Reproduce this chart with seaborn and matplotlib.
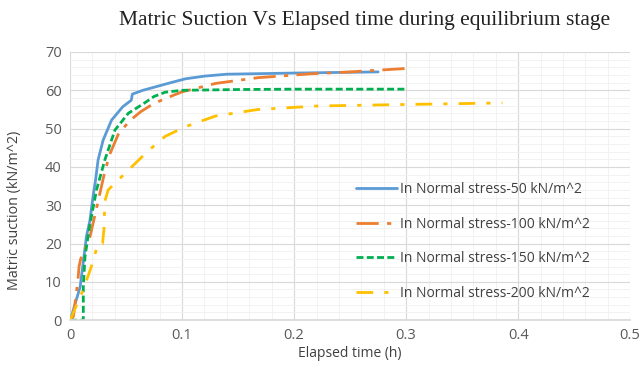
import matplotlib
matplotlib.use("Agg")
import matplotlib.pyplot as plt
import seaborn as sns
import pandas as pd
from matplotlib.ticker import MultipleLocator

# Data
t_50 = [0.0, 0.0015, 0.009, 0.0147, 0.0177, 0.0206, 0.0227, 0.025, 0.0295, 0.037, 0.047, 0.0546, 0.0556, 0.065, 0.075, 0.09, 0.103, 0.12, 0.14, 0.2, 0.25, 0.275]
s_50 = [0.0, 1.3, 8.7, 22.0, 26.0, 32.5, 36.5, 41.8, 47.0, 52.2, 55.7, 57.4, 59.0, 60.0, 60.8, 62.0, 63.0, 63.7, 64.2, 64.5, 64.7, 64.8]
t_100 = [0.0, 0.003, 0.007, 0.008, 0.0095, 0.0177, 0.025, 0.03, 0.035, 0.043, 0.053, 0.063, 0.075, 0.088, 0.1, 0.13, 0.168, 0.215, 0.25, 0.3]
s_100 = [0.0, 1.0, 10.4, 14.0, 16.0, 21.7, 31.0, 37.5, 43.0, 48.5, 52.0, 54.4, 56.6, 58.2, 59.6, 61.8, 63.3, 64.3, 64.8, 65.7]
t_150 = [0.0, 0.0118, 0.0118, 0.0133, 0.0177, 0.0236, 0.031, 0.04, 0.052, 0.066, 0.075, 0.085, 0.1, 0.15, 0.2, 0.25, 0.3]
s_150 = [0.0, 0.0, 8.7, 16.5, 25.0, 34.0, 41.8, 49.6, 54.0, 56.6, 58.4, 59.5, 60.0, 60.2, 60.3, 60.3, 60.3]
t_200 = [0.0, 0.0015, 0.0118, 0.019, 0.025, 0.029, 0.0303, 0.031, 0.034, 0.049, 0.069, 0.085, 0.103, 0.13, 0.168, 0.221, 0.3, 0.386]
s_200 = [0.0, 1.0, 8.0, 14.0, 20.0, 20.0, 24.0, 31.0, 34.0, 38.3, 44.0, 48.0, 50.5, 53.3, 55.0, 55.9, 56.3, 56.7]

labels = ["In Normal stress-50 kN/m^2", "In Normal stress-100 kN/m^2",
          "In Normal stress-150 kN/m^2", "In Normal stress-200 kN/m^2"]
title = "Matric Suction Vs Elapsed time during equilibrium stage"
xlabel = "Elapsed time (h)"
ylabel = "Matric suction (kN/m^2)"

sns.set_theme(style="white")
plt.rcParams['font.family'] = ['Open Sans', 'DejaVu Sans']

fig = plt.figure(figsize=(6.43, 3.74), dpi=100)
ax = fig.add_axes([0.109, 0.144, 0.871, 0.717])

series = [(t_50, s_50), (t_100, s_100), (t_150, s_150), (t_200, s_200)]
colors = ["#5B9BD5", "#ED7D31", "#00B050", "#FFC000"]
dashes = [None, (0, (8, 3, 1.5, 3)), (0, (2.5, 1.2)), (0, (6, 4, 1.5, 4))]
widths = [2.0, 2.0, 2.0, 2.0]

for (t, s), lab, c, d, w in zip(series, labels, colors, dashes, widths):
    df = pd.DataFrame({"t": t, "s": s})
    sns.lineplot(data=df, x="t", y="s", ax=ax, color=c, lw=w, label=lab,
                 linestyle=d if d is not None else "-", estimator=None, sort=False)

ax.set_xlim(0, 0.5)
ax.set_ylim(0, 70)
ax.xaxis.set_major_locator(MultipleLocator(0.1))
ax.xaxis.set_minor_locator(MultipleLocator(0.02))
ax.yaxis.set_major_locator(MultipleLocator(10))
ax.yaxis.set_minor_locator(MultipleLocator(2))
ax.grid(which="major", color="#d9d9d9", lw=0.8)
ax.grid(which="minor", color="#f0f0f0", lw=0.6)
ax.set_axisbelow(True)
for sp in ["top", "right", "left"]:
    ax.spines[sp].set_visible(False)
ax.spines["bottom"].set_color("#d9d9d9")
ax.tick_params(axis="both", which="both", length=0, labelsize=10.5, colors="#595959", pad=6)
ax.set_xticks([0, 0.1, 0.2, 0.3, 0.4, 0.5])
ax.set_xticklabels(["0", "0.1", "0.2", "0.3", "0.4", "0.5"])

ax.set_xlabel(xlabel, fontsize=10, color="#404040", labelpad=2)
ax.set_ylabel(ylabel, fontsize=10.3, color="#404040")
ax.yaxis.set_label_coords(-0.086, 0.41)
fig.suptitle(title, fontsize=15.5, family=["Liberation Serif"], x=0.567, y=0.97, color="#222222")

leg = ax.legend(loc="upper left", bbox_to_anchor=(0.5, 0.535), frameon=False,
                fontsize=10, labelspacing=1.4, handlelength=3.0, handletextpad=0.2,
                borderaxespad=0)
for txt in leg.get_texts():
    txt.set_color("#404040")

fig.savefig("out.png", dpi=100)
